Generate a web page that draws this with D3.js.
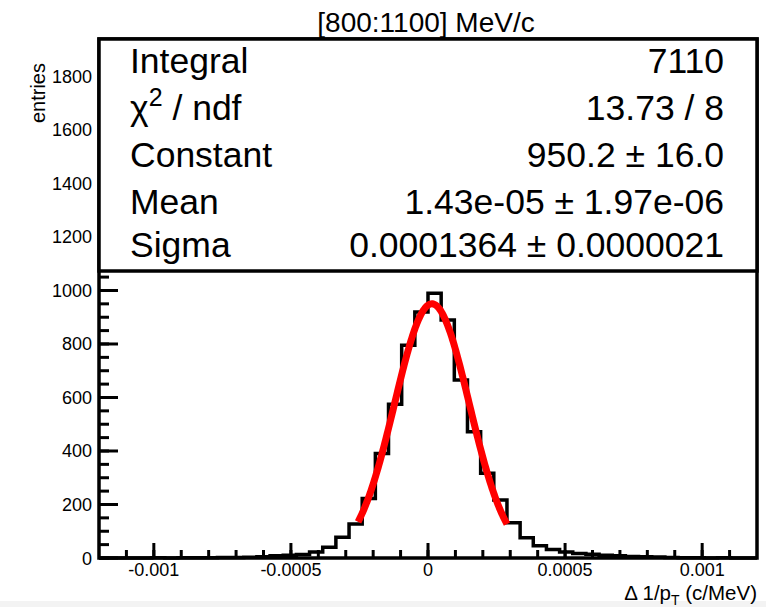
<!DOCTYPE html>
<html>
<head>
<meta charset="utf-8">
<script src="https://cdn.jsdelivr.net/npm/d3@7"></script>
<style>
  html, body { margin: 0; padding: 0; background: #ffffff; }
  svg { display: block; font-family: "Liberation Sans", Arial, Helvetica, sans-serif; }
</style>
</head>
<body>
<svg id="chart" width="766" height="607"></svg>
<script>
// Histogram binning: 50 bins from -0.0012 to 0.0012
const binLow = -0.0012;
const binWidth = 0.000048;
const counts = [
  0, 0, 0, 0, 1, 0, 1, 1, 1, 2,
  2, 3, 5, 8, 10, 13, 22, 40, 78, 127,
  222, 391, 575, 795, 920, 990, 890, 665, 472, 317,
  217, 132, 76, 46, 32, 22, 17, 14, 10, 8,
  6, 5, 4, 2, 1, 1, 0, 1, 0, 0
];

// Gaussian fit result and its range
const fitConstant = 950.2;
const fitMean = 1.43e-05;
const fitSigma = 0.0001364;
const fitRange = [-0.000255, 0.000288];

// Axis ticks
const xTickValues = [-0.001, -0.0005, 0, 0.0005, 0.001];
const xTickLabels = ["-0.001", "-0.0005", "0", "0.0005", "0.001"];
const yTickValues = [0, 200, 400, 600, 800, 1000, 1200, 1400, 1600, 1800];
const yTickLabels = ["0", "200", "400", "600", "800", "1000", "1200", "1400", "1600", "1800"];

// Statistics box rows
const statLabels = ["Integral", "χ2 / ndf", "Constant", "Mean", "Sigma"];
const statValues = ["7110", "13.73 / 8", "950.2 ± 16.0", "1.43e-05 ± 1.97e-06", "0.0001364 ± 0.0000021"];

const title = "[800:1100] MeV/c";

const svg = d3.select("#chart");
const frame = { left: 99, right: 757, top: 39, bottom: 558 };

const x = d3.scaleLinear().domain([-0.0012, 0.0012]).range([frame.left, frame.right]);
const y = d3.scaleLinear().domain([0, 1940]).range([frame.bottom, frame.top]);

// faint strip along the bottom edge of the canvas
svg.append("rect")
  .attr("x", 0).attr("y", 601).attr("width", 766).attr("height", 6)
  .attr("fill", "#f3f3f3");

// histogram outline as a step line
const edges = counts.map((c, i) => binLow + i * binWidth);
const stepPts = [[binLow, 0]];
counts.forEach((c, i) => {
  stepPts.push([edges[i], c]);
  stepPts.push([edges[i] + binWidth, c]);
});
stepPts.push([binLow + counts.length * binWidth, 0]);

svg.append("path")
  .datum(stepPts)
  .attr("fill", "none")
  .attr("stroke", "#000")
  .attr("stroke-width", 3.5)
  .attr("stroke-linejoin", "miter")
  .attr("d", d3.line().x(d => x(d[0])).y(d => y(d[1])));

// fitted gaussian
const gauss = v => fitConstant * Math.exp(-0.5 * Math.pow((v - fitMean) / fitSigma, 2));
const fitPts = d3.range(0, 201).map(i => {
  const v = fitRange[0] + (fitRange[1] - fitRange[0]) * i / 200;
  return [v, gauss(v)];
});
svg.append("path")
  .datum(fitPts)
  .attr("fill", "none")
  .attr("stroke", "#ff0000")
  .attr("stroke-width", 7)
  .attr("d", d3.line().x(d => x(d[0])).y(d => y(d[1])));

// x axis ticks (drawn upward from the axis line)
const xMinor = d3.range(-11, 12).map(k => k * 0.0001);
const gx = svg.append("g");
gx.selectAll("line.minor").data(xMinor).join("line")
  .attr("x1", d => x(d)).attr("x2", d => x(d))
  .attr("y1", frame.bottom).attr("y2", frame.bottom - 8)
  .attr("stroke", "#000").attr("stroke-width", 3);
gx.selectAll("line.major").data(xTickValues).join("line")
  .attr("x1", d => x(d)).attr("x2", d => x(d))
  .attr("y1", frame.bottom).attr("y2", frame.bottom - 15)
  .attr("stroke", "#000").attr("stroke-width", 3);
gx.selectAll("text").data(xTickValues).join("text")
  .attr("x", d => x(d)).attr("y", 576)
  .attr("text-anchor", "middle")
  .attr("font-size", 18)
  .text((d, i) => xTickLabels[i]);

// y axis ticks (drawn rightward from the axis line)
const yMinor = d3.range(0, 39).map(k => k * 50);
const gy = svg.append("g");
gy.selectAll("line.minor").data(yMinor).join("line")
  .attr("x1", frame.left).attr("x2", frame.left + 10)
  .attr("y1", d => y(d)).attr("y2", d => y(d))
  .attr("stroke", "#000").attr("stroke-width", 3);
gy.selectAll("line.major").data(yTickValues).join("line")
  .attr("x1", frame.left).attr("x2", frame.left + 19)
  .attr("y1", d => y(d)).attr("y2", d => y(d))
  .attr("stroke", "#000").attr("stroke-width", 3);
gy.selectAll("text").data(yTickValues).join("text")
  .attr("x", 92).attr("y", d => y(d) + 6.5)
  .attr("text-anchor", "end")
  .attr("font-size", 18)
  .text((d, i) => yTickLabels[i]);

// axis titles
svg.append("text")
  .attr("transform", "translate(45,63) rotate(-90)")
  .attr("text-anchor", "end")
  .attr("font-size", 20)
  .text("entries");

const xt = svg.append("text")
  .attr("x", frame.right).attr("y", 600)
  .attr("text-anchor", "end")
  .attr("font-size", 20.5);
xt.append("tspan").text("Δ 1/p");
xt.append("tspan").attr("font-size", 14).attr("dy", 5).text("T");
xt.append("tspan").attr("dy", -5).text(" (c/MeV)");

// frame
svg.append("rect")
  .attr("x", frame.left).attr("y", frame.top)
  .attr("width", frame.right - frame.left).attr("height", frame.bottom - frame.top)
  .attr("fill", "none").attr("stroke", "#000").attr("stroke-width", 3.5);

// statistics box
const box = { top: frame.top, bottom: 271 };
svg.append("rect")
  .attr("x", frame.left).attr("y", box.top)
  .attr("width", frame.right - frame.left).attr("height", box.bottom - box.top)
  .attr("fill", "#fff").attr("stroke", "#000").attr("stroke-width", 3.5);

const rowBase = [73, 120, 167, 214, 257];
const gs = svg.append("g").attr("font-size", 35.5);
statLabels.forEach((lab, i) => {
  const t = gs.append("text").attr("x", 130).attr("y", rowBase[i]);
  if (i === 1) {
    t.append("tspan").text("χ");
    t.append("tspan").attr("font-size", 25).attr("dy", -14).text("2");
    t.append("tspan").attr("dy", 14).text(" / ndf");
  } else {
    t.text(lab);
  }
});
gs.selectAll("text.val").data(statValues).join("text")
  .attr("class", "val")
  .attr("x", 724).attr("y", (d, i) => rowBase[i])
  .attr("text-anchor", "end")
  .text(d => d);

// title
svg.append("text")
  .attr("x", 426).attr("y", 32)
  .attr("text-anchor", "middle")
  .attr("font-size", 28)
  .text(title);
</script>
</body>
</html>
